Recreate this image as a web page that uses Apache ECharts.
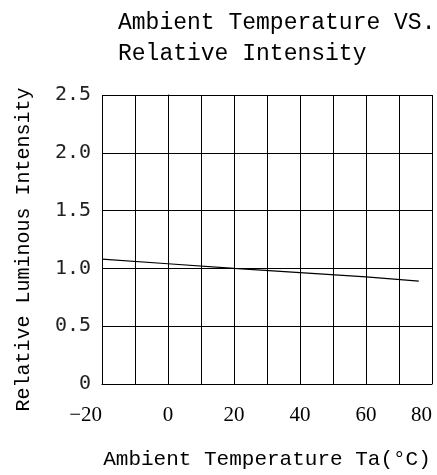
<!DOCTYPE html>
<html>
<head>
<meta charset="utf-8">
<script src="https://cdn.jsdelivr.net/npm/echarts@6/dist/echarts.min.js"></script>
<style>html,body{margin:0;padding:0;background:#fff;}#c{width:437px;height:475px;}</style>
</head>
<body>
<div id="c"></div>
<script>
const titleLines = ['Ambient Temperature VS.', 'Relative Intensity'];
const xName = 'Ambient Temperature Ta(°C)';
const yName = 'Relative Luminous Intensity';
const temperatures = [-20, 0, 20, 40, 60, 76];
const intensity = [1.08, 1.04, 1.0, 0.963, 0.926, 0.89];
const xTicks = [-20, 0, 20, 40, 60, 80];
const yTicks = [0, 0.5, 1.0, 1.5, 2.0, 2.5];

const chart = echarts.init(document.getElementById('c'), null, {renderer: 'canvas'});
chart.setOption({
  animation: false,
  backgroundColor: '#fff',
  title: {
    text: titleLines.join('\n'),
    left: 113, top: 2,
    textStyle: {fontFamily: 'Liberation Mono', fontSize: 23, fontWeight: 'normal', color: '#000', lineHeight: 31}
  },
  grid: {left: 102, right: 5, top: 95, bottom: 84},
  xAxis: {
    type: 'value',
    min: xTicks[0], max: xTicks[xTicks.length - 1], interval: 20,
    name: xName, nameLocation: 'middle', nameGap: 65,
    nameTextStyle: {fontFamily: 'Liberation Mono', fontSize: 21, color: '#000'},
    axisLine: {show: true, lineStyle: {color: '#000', width: 1}},
    axisTick: {show: false},
    axisLabel: {
      margin: 21, fontFamily: 'Liberation Serif', fontSize: 21, color: '#000',
      alignMinLabel: 'right', alignMaxLabel: 'right',
      formatter: v => String(v).replace('-', '\u2212')
    },
    splitLine: {show: true, lineStyle: {color: '#000', width: 1}},
    minorTick: {show: false, splitNumber: 2},
    minorSplitLine: {show: true, lineStyle: {color: '#000', width: 1}}
  },
  yAxis: {
    type: 'value',
    min: yTicks[0], max: yTicks[yTicks.length - 1], interval: 0.5,
    name: yName, nameLocation: 'middle', nameGap: 68, nameRotate: 90,
    nameTextStyle: {fontFamily: 'Liberation Mono', fontSize: 20, color: '#000', padding: [0, 20, 0, 0]},
    axisLine: {show: true, lineStyle: {color: '#000', width: 1}},
    axisTick: {show: false},
    axisLabel: {
      margin: 11, fontFamily: 'DejaVu Sans Mono', fontSize: 20, color: '#222',
      formatter: v => v === 0 ? '0' : v.toFixed(1)
    },
    splitLine: {show: true, lineStyle: {color: '#000', width: 1}}
  },
  series: [{
    type: 'line',
    data: temperatures.map((t, i) => [t, intensity[i]]),
    showSymbol: false,
    lineStyle: {color: '#000', width: 1.2}
  }]
});
</script>
</body>
</html>
